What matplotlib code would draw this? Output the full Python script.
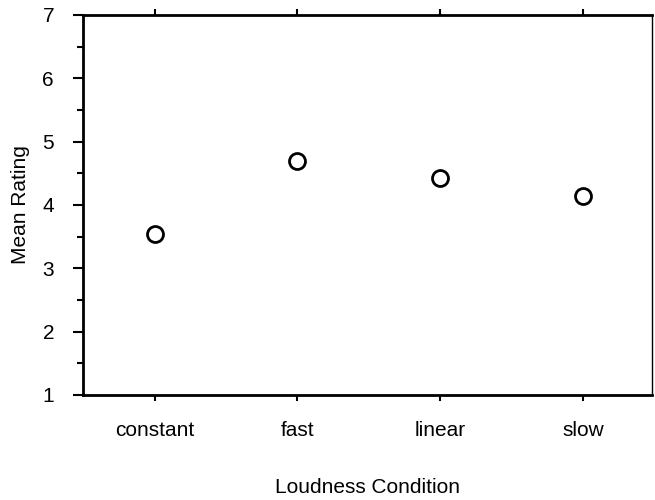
import numpy as np
import matplotlib.pyplot as plt
from matplotlib.ticker import MultipleLocator

plt.rcParams['font.family'] = ['Liberation Sans', 'DejaVu Sans']

# data
conditions = ['constant', 'fast', 'linear', 'slow']
mean_rating = [3.55, 4.70, 4.43, 4.14]

fig = plt.figure(figsize=(6.55, 5), dpi=100)
ax = fig.add_axes([0.127, 0.21, 0.868, 0.76])

x = np.arange(len(conditions))
ax.plot(x, mean_rating, 'o', markersize=11.5, markerfacecolor='white',
        markeredgecolor='black', markeredgewidth=2)

ax.set_xlim(-0.5, 3.48)
ax.set_ylim(1, 7)
ax.set_xticks(x)
ax.set_xticklabels(conditions)
ax.yaxis.set_major_locator(MultipleLocator(1))
ax.yaxis.set_minor_locator(MultipleLocator(0.5))

ax.tick_params(axis='y', which='major', direction='out', length=7, width=1.5,
               labelsize=15, pad=14)
ax.tick_params(axis='y', which='minor', direction='out', length=4, width=1.5)
ax.tick_params(axis='x', which='major', direction='out', length=4, width=1.5,
               labelsize=15, pad=15, top=True)

for side in ['left', 'bottom', 'top']:
    ax.spines[side].set_linewidth(2)
ax.spines['right'].set_linewidth(1)

ax.set_xlabel('Loudness Condition', fontsize=15, labelpad=27)
ax.set_ylabel('Mean Rating', fontsize=15, labelpad=9)

plt.savefig('out.png')
